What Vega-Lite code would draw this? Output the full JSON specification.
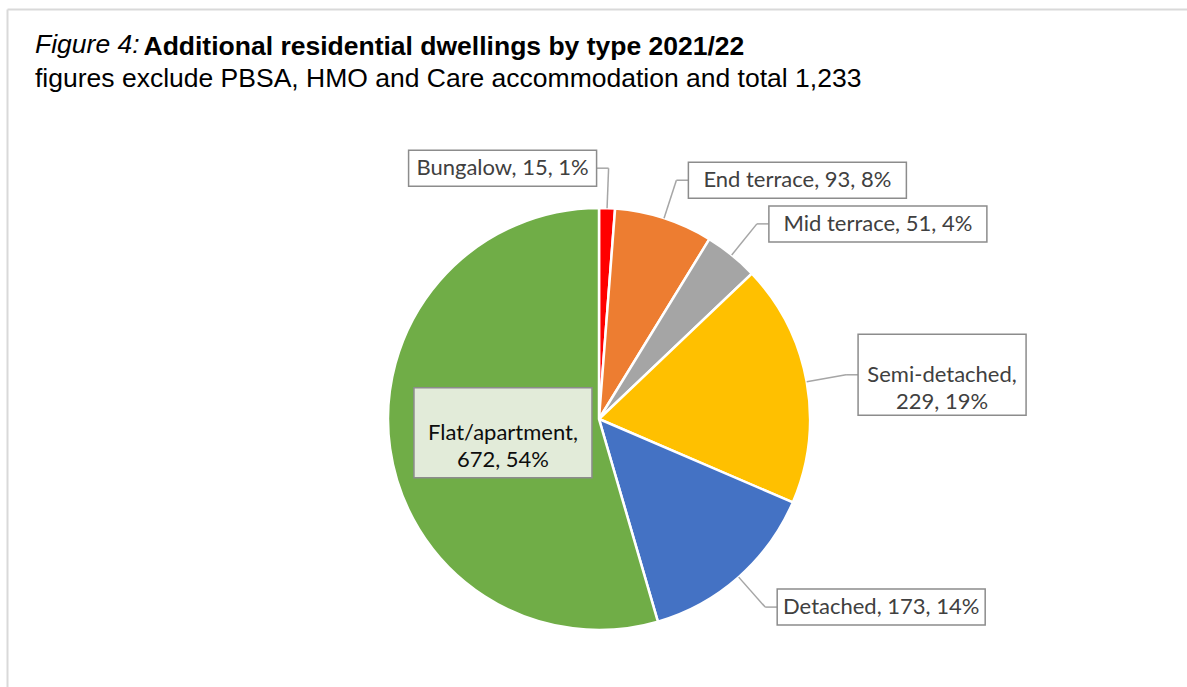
{
  "$schema": "https://vega.github.io/schema/vega-lite/v6.json",
  "width": 1180,
  "height": 678,
  "autosize": {"type": "none"},
  "padding": {"left": 7, "top": 9, "right": 0, "bottom": 0},
  "background": "white",
  "config": {
    "view": {"stroke": null},
    "axis": {"domain": false, "ticks": false, "labels": false, "grid": false, "titleOpacity": 0},
    "axisX": {"orient": "top"},
    "axisY": {"orient": "left"}
  },
  "title": {
    "text": "Figure 4:",
    "subtitle": "figures exclude PBSA, HMO and Care accommodation and total 1,233",
    "anchor": "start",
    "frame": "group",
    "orient": "top",
    "font": "Liberation Sans",
    "fontSize": 26.5,
    "fontStyle": "italic",
    "fontWeight": "normal",
    "color": "black",
    "subtitleFont": "Liberation Sans",
    "subtitleFontSize": 26.5,
    "subtitleColor": "black",
    "subtitlePadding": 7,
    "offset": -83,
    "dx": 28
  },
  "data": {
    "values": [
      {"type": "Bungalow", "value": 15, "pct": 1, "idx": 1},
      {"type": "End terrace", "value": 93, "pct": 8, "idx": 2},
      {"type": "Mid terrace", "value": 51, "pct": 4, "idx": 3},
      {"type": "Semi-detached", "value": 229, "pct": 19, "idx": 4},
      {"type": "Detached", "value": 173, "pct": 14, "idx": 5},
      {"type": "Flat/apartment", "value": 672, "pct": 54, "idx": 6}
    ]
  },
  "transform": [
    {"joinaggregate": [{"op": "sum", "field": "value", "as": "tot"}]},
    {"stack": "value", "groupby": [], "sort": [{"field": "idx", "order": "ascending"}], "as": ["v0", "v1"]},
    {"calculate": "PI * (datum.v0 + datum.v1) / datum.tot", "as": "a"},
    {"calculate": "sin(datum.a)", "as": "sa"},
    {"calculate": "cos(datum.a)", "as": "ca"},
    {"calculate": "datum.value / datum.tot > 0.4", "as": "inside"},
    {"calculate": "datum.value + ', ' + datum.pct + '%'", "as": "l2"},
    {"calculate": "datum.type + ', ' + datum.l2", "as": "full"},
    {"calculate": "length(datum.full) > 20", "as": "two"},
    {"calculate": "datum.two ? datum.type + ',\\n' + datum.l2 : datum.full", "as": "label"},
    {"calculate": "datum.two ? max(length(datum.type) + 1, length(datum.l2)) : length(datum.full)", "as": "mlen"},
    {"calculate": "10 * datum.mlen + 28", "as": "bw"},
    {"calculate": "datum.two ? (datum.inside ? 90 : 81) : 36", "as": "bh"},
    {"calculate": "datum.sa > 0.1", "as": "right"},
    {"calculate": "211 * datum.sa", "as": "sx"},
    {"calculate": "211 * datum.ca", "as": "sy"},
    {"calculate": "251 * datum.sa", "as": "ex"},
    {"calculate": "251 * datum.ca", "as": "ey"},
    {"calculate": "datum.right ? datum.ex + 12 : datum.ex - 12", "as": "bx"},
    {"calculate": "datum.inside ? 97 * datum.sa : (datum.right ? datum.bx + datum.bw / 2 : datum.bx - datum.bw / 2)", "as": "cx"},
    {"calculate": "datum.inside ? 97 * datum.ca : datum.ey", "as": "cy"},
    {"calculate": "datum.cx - datum.bw / 2", "as": "x1"},
    {"calculate": "datum.cx + datum.bw / 2", "as": "x2"},
    {"calculate": "datum.cy - datum.bh / 2", "as": "y1"},
    {"calculate": "datum.cy + datum.bh / 2", "as": "y2"}
  ],
  "layer": [
    {
      "mark": {"type": "rect", "stroke": "#8C8C8C", "strokeWidth": 1.5},
      "encoding": {
        "x": {
          "field": "x1", "type": "quantitative",
          "scale": {"domain": [-592, 588], "nice": false, "zero": false},
          "axis": {
            "orient": "top", "domain": true, "domainColor": "#D9D9D9", "domainWidth": 2,
            "ticks": false, "labels": false, "grid": false,
            "title": "Additional residential dwellings by type 2021/22",
            "titleFont": "Liberation Sans", "titleFontSize": 26.5, "titleFontWeight": "bold",
            "titleColor": "black", "titleOpacity": 1, "titleAlign": "left", "titleAnchor": "start",
            "titleBaseline": "alphabetic", "titleX": 136, "titleY": 45, "titleAngle": 0
          }
        },
        "x2": {"field": "x2"},
        "y": {
          "field": "y1", "type": "quantitative",
          "scale": {"domain": [-268, 410], "nice": false, "zero": false},
          "axis": {
            "orient": "left", "domain": true, "domainColor": "#D9D9D9", "domainWidth": 2,
            "ticks": false, "labels": false, "grid": false, "title": ""
          }
        },
        "y2": {"field": "y2"},
        "fill": {"value": "transparent"},
        "strokeOpacity": {"value": 0}
      }
    },
    {
      "mark": {"type": "arc", "outerRadius": 211, "stroke": "white", "strokeWidth": 2.5},
      "encoding": {
        "x": {"datum": 0, "type": "quantitative", "scale": {"domain": [-592, 588], "nice": false, "zero": false}},
        "y": {"datum": 0, "type": "quantitative", "scale": {"domain": [-268, 410], "nice": false, "zero": false}},
        "theta": {"field": "value", "type": "quantitative", "stack": true},
        "order": {"field": "idx", "type": "quantitative"},
        "color": {
          "field": "type", "type": "nominal", "legend": null,
          "scale": {
            "domain": ["Bungalow", "End terrace", "Mid terrace", "Semi-detached", "Detached", "Flat/apartment"],
            "range": ["#FF0000", "#ED7D31", "#A5A5A5", "#FFC000", "#4472C4", "#70AD47"]
          }
        }
      }
    },
    {
      "transform": [{"filter": "!datum.inside"}],
      "mark": {"type": "rule", "stroke": "#A6A6A6", "strokeWidth": 1.5},
      "encoding": {
        "x": {"field": "sx", "type": "quantitative", "scale": {"domain": [-592, 588], "nice": false, "zero": false}},
        "y": {"field": "sy", "type": "quantitative", "scale": {"domain": [-268, 410], "nice": false, "zero": false}},
        "x2": {"field": "ex"},
        "y2": {"field": "ey"}
      }
    },
    {
      "transform": [{"filter": "!datum.inside"}],
      "mark": {"type": "rule", "stroke": "#A6A6A6", "strokeWidth": 1.5},
      "encoding": {
        "x": {"field": "ex", "type": "quantitative", "scale": {"domain": [-592, 588], "nice": false, "zero": false}},
        "y": {"field": "ey", "type": "quantitative", "scale": {"domain": [-268, 410], "nice": false, "zero": false}},
        "x2": {"field": "bx"},
        "y2": {"field": "ey"}
      }
    },
    {
      "mark": {"type": "rect", "stroke": "#8C8C8C", "strokeWidth": 1.5},
      "encoding": {
        "x": {"field": "x1", "type": "quantitative", "scale": {"domain": [-592, 588], "nice": false, "zero": false}},
        "x2": {"field": "x2"},
        "y": {"field": "y1", "type": "quantitative", "scale": {"domain": [-268, 410], "nice": false, "zero": false}},
        "y2": {"field": "y2"},
        "fill": {"condition": {"test": "datum.inside", "value": "#E2EBD9"}, "value": "white"}
      }
    },
    {
      "mark": {"type": "text", "font": "Lato", "fontSize": 22, "align": "center", "baseline": "middle", "lineBreak": "\n", "lineHeight": 27},
      "encoding": {
        "x": {"field": "cx", "type": "quantitative", "scale": {"domain": [-592, 588], "nice": false, "zero": false}},
        "y": {"field": "cy", "type": "quantitative", "scale": {"domain": [-268, 410], "nice": false, "zero": false}},
        "text": {"field": "label"},
        "fill": {"condition": {"test": "datum.inside", "value": "#0D0D0D"}, "value": "#404040"}
      }
    }
  ]
}
